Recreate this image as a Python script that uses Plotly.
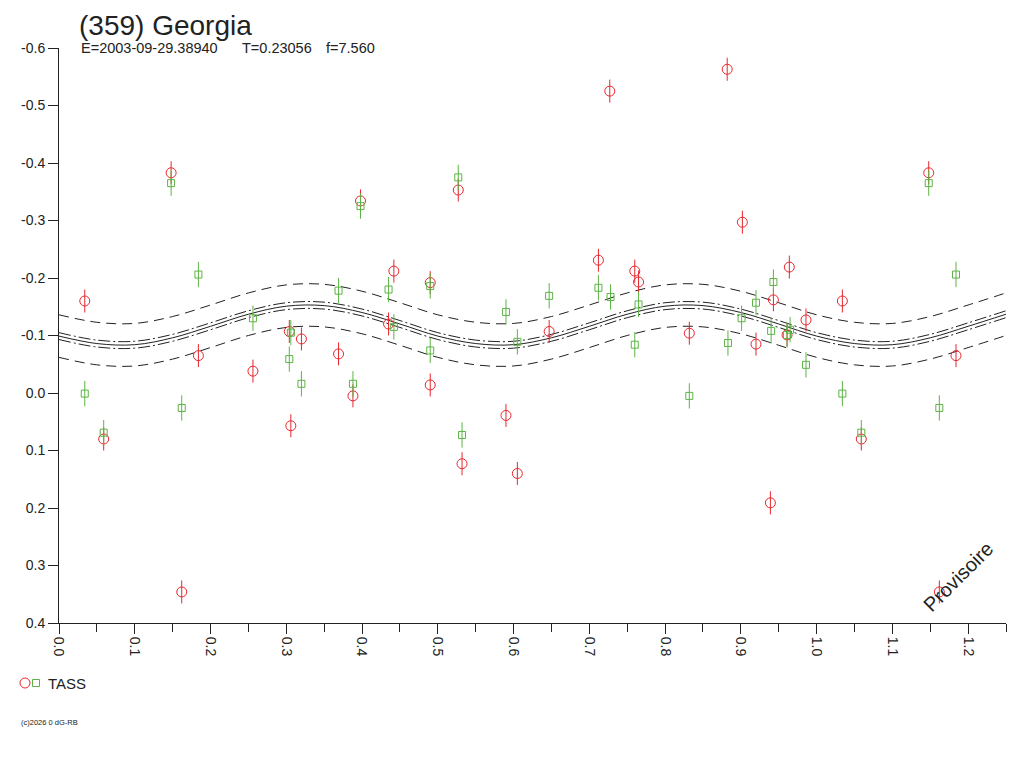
import plotly.graph_objects as go

# --- data ------------------------------------------------------------------
title_text = "(359) Georgia"
epoch_text = "E=2003-09-29.38940"
period_text = "T=0.23056"
freq_text = "f=7.560"
series_name = "TASS"
copyright_text = "(c)2026 0 dG-RB"

phase = [0.034, 0.059, 0.148, 0.162, 0.184, 0.256, 0.304, 0.306, 0.320, 0.369,
         0.388, 0.398, 0.435, 0.442, 0.490, 0.490, 0.527, 0.532, 0.590, 0.605,
         0.647, 0.712, 0.727, 0.760, 0.765, 0.832, 0.882, 0.902, 0.920, 0.939,
         0.943, 0.961, 0.964, 0.986]
mag_red = [-0.160, 0.080, -0.383, 0.346, -0.065, -0.038, -0.107, 0.057, -0.094, -0.068,
           0.005, -0.334, -0.120, -0.212, -0.192, -0.014, -0.353, 0.123, 0.039, 0.140,
           -0.107, -0.231, -0.525, -0.212, -0.193, -0.104, -0.563, -0.297, -0.085, 0.191,
           -0.162, -0.101, -0.219, -0.127]

phase_g = [0.034, 0.059, 0.148, 0.162, 0.184, 0.256, 0.304, 0.306, 0.320, 0.369,
           0.388, 0.398, 0.435, 0.442, 0.490, 0.490, 0.527, 0.532, 0.590, 0.605,
           0.647, 0.712, 0.728, 0.760, 0.765, 0.832, 0.883, 0.901, 0.920, 0.940,
           0.943, 0.961, 0.965, 0.986]
mag_green = [0.001, 0.069, -0.365, 0.026, -0.206, -0.130, -0.059, -0.105, -0.016, -0.178,
             -0.016, -0.325, -0.180, -0.115, -0.186, -0.074, -0.375, 0.073, -0.141, -0.089,
             -0.169, -0.183, -0.167, -0.084, -0.154, 0.005, -0.087, -0.130, -0.157, -0.108,
             -0.193, -0.101, -0.110, -0.049]

err_red = 0.020
err_green = 0.022

fit_phase = [0.00, 0.05, 0.10, 0.15, 0.20, 0.25, 0.30, 0.35, 0.40, 0.45,
             0.50, 0.55, 0.60, 0.65, 0.70, 0.75, 0.80, 0.85, 0.90, 0.95,
             1.00, 1.05, 1.10, 1.15, 1.20, 1.25]
fit_mag = [-0.099, -0.086, -0.084, -0.096, -0.116, -0.137, -0.151, -0.152, -0.140, -0.120,
           -0.099, -0.086, -0.084, -0.096, -0.116, -0.137, -0.151, -0.152, -0.140, -0.120,
           -0.099, -0.086, -0.084, -0.096, -0.116, -0.137]
fit_inner = 0.006   # dash-dot band half width
fit_outer = 0.037   # dashed band half width

x_ticks = [0.0, 0.1, 0.2, 0.3, 0.4, 0.5, 0.6, 0.7, 0.8, 0.9, 1.0, 1.1, 1.2]
x_minor = [0.05, 0.15, 0.25, 0.35, 0.45, 0.55, 0.65, 0.75, 0.85, 0.95, 1.05, 1.15, 1.25]
y_ticks = [-0.6, -0.5, -0.4, -0.3, -0.2, -0.1, 0.0, 0.1, 0.2, 0.3, 0.4]

# --- styling -----------------------------------------------------------------
# the page body adds an 8px margin, so the figure is 8px smaller and shifted
OFF = 8
W, H = 1016, 760
L, R, T, B = 51, 18, 40, 145
red = "#e8262e"
green = "#5cb445"
ink = "#222222"
font = "Liberation Sans, Arial, sans-serif"


def px(x):
    # page pixel -> paper x
    return (x - OFF - L) / (W - L - R)


def py(y):
    # page pixel -> paper y
    return (H - B - (y - OFF)) / (H - T - B)


# points are repeated one cycle later, up to the end of the axis
def wrap(xs, ys):
    ox = list(xs) + [x + 1 for x in xs if x < 0.25]
    oy = list(ys) + [y for x, y in zip(xs, ys) if x < 0.25]
    return ox, oy


rx, ry = wrap(phase, mag_red)
gx, gy = wrap(phase_g, mag_green)

fig = go.Figure()

for off, dash in [(0, "solid"), (fit_inner, "12px,3px,2px,3px"), (-fit_inner, "12px,3px,2px,3px"),
                  (fit_outer, "10px,6px"), (-fit_outer, "10px,6px")]:
    fig.add_trace(go.Scatter(
        x=fit_phase, y=[m + off for m in fit_mag], mode="lines",
        line=dict(color=ink, width=1, dash=dash, shape="spline"),
        hoverinfo="skip", showlegend=False))

fig.add_trace(go.Scatter(
    x=rx, y=ry, mode="markers", name=series_name, showlegend=False,
    marker=dict(symbol="circle-open", size=10, color=red, line=dict(width=1)),
    error_y=dict(type="data", array=[err_red] * len(ry), width=0, thickness=1, color=red)))
fig.add_trace(go.Scatter(
    x=gx, y=gy, mode="markers", name=series_name, showlegend=False,
    marker=dict(symbol="square-open", size=7, color=green, line=dict(width=1)),
    error_y=dict(type="data", array=[err_green] * len(gy), width=0, thickness=1, color=green)))

fig.update_xaxes(
    range=[0, 1.25], tickmode="array", tickvals=x_ticks,
    ticktext=[f"{v:.1f}" for v in x_ticks], tickangle=90,
    ticks="outside", ticklen=10, tickcolor=ink, tickwidth=1,
    minor=dict(tickvals=x_minor, ticks="outside", ticklen=8, tickcolor=ink, tickwidth=1),
    showline=True, linecolor=ink, linewidth=1, showgrid=False, zeroline=False,
    tickfont=dict(family=font, size=14, color=ink))
fig.update_yaxes(
    range=[0.4, -0.6], tickmode="array", tickvals=y_ticks,
    ticktext=[f"{v:.1f}".replace("-0.0", "0.0") for v in y_ticks],
    ticks="outside", ticklen=10, tickcolor=ink, tickwidth=1,
    showline=True, linecolor=ink, linewidth=1, showgrid=False, zeroline=False,
    tickfont=dict(family=font, size=14, color=ink))

ann = [
    dict(text=epoch_text, x=px(79), y=py(48), size=14.5),
    dict(text=period_text, x=px(240), y=py(48), size=14.5),
    dict(text=freq_text, x=px(324), y=py(48), size=14.5),
    dict(text=series_name, x=px(46), y=py(683), size=15),
    dict(text=copyright_text, x=px(19), y=py(722), size=7.5),
]
annotations = [dict(text=a["text"], x=a["x"], y=a["y"], xref="paper", yref="paper",
                    xanchor="left", yanchor="middle", showarrow=False,
                    font=dict(family=font, size=a["size"], color=ink)) for a in ann]
annotations.append(dict(text=title_text, x=px(77), y=py(OFF), xref="paper", yref="paper",
                        xanchor="left", yanchor="top", showarrow=False,
                        font=dict(family=font, size=28, color=ink)))
annotations.append(dict(text="Provisoire", x=px(958), y=py(577), xref="paper", yref="paper",
                        xanchor="center", yanchor="middle", showarrow=False, textangle=-45,
                        font=dict(family=font, size=20, color=ink)))

shapes = [
    dict(type="circle", xref="paper", yref="paper", x0=px(20), x1=px(30), y0=py(688), y1=py(678),
         line=dict(color=red, width=1)),
    dict(type="rect", xref="paper", yref="paper", x0=px(32.5), x1=px(39.5), y0=py(686.5), y1=py(679.5),
         line=dict(color=green, width=1)),
]

fig.update_layout(
    width=W, height=H, margin=dict(l=L, r=R, t=T, b=B),
    paper_bgcolor="white", plot_bgcolor="white",
    annotations=annotations, shapes=shapes, showlegend=False,
    font=dict(family=font, color=ink))

fig.write_html("out.html")
